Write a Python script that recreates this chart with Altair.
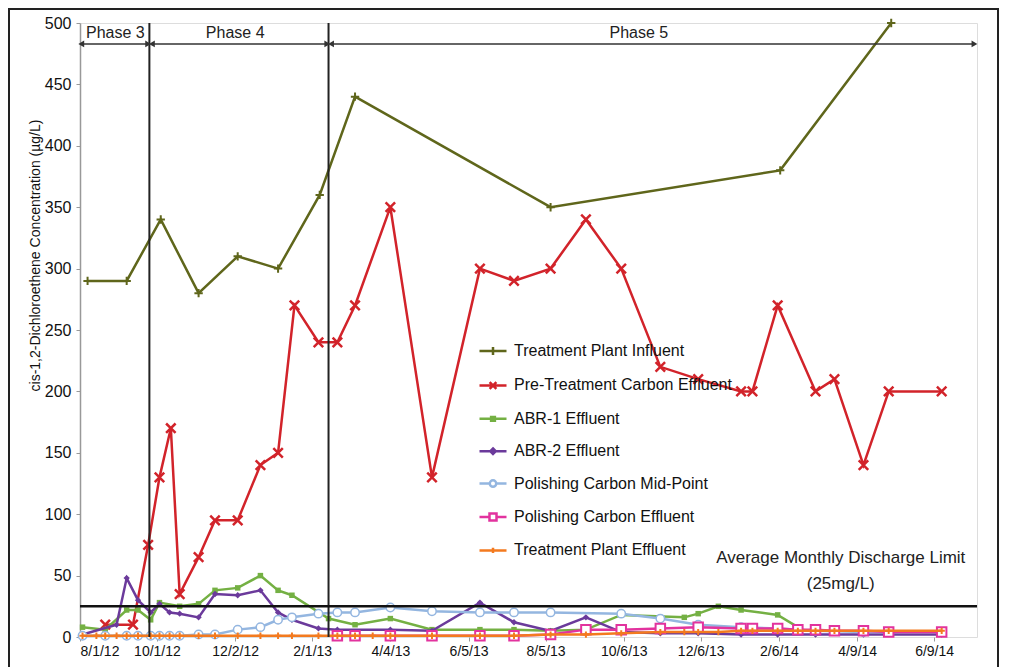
import altair as alt
import pandas as pd

# ---------------- data ----------------
SERIES = ["Treatment Plant Influent", "Pre-Treatment Carbon Effluent", "ABR-1 Effluent",
          "ABR-2 Effluent", "Polishing Carbon Mid-Point", "Polishing Carbon Effluent",
          "Treatment Plant Effluent"]
COLORS = ["#5f661b", "#d2232a", "#74b043", "#6b3a9b", "#94b6e0", "#e2339e", "#f37a1f"]

influent_dates = ["2012-08-07", "2012-09-07", "2012-10-04", "2012-11-03", "2012-12-04", "2013-01-05",
                  "2013-02-07", "2013-03-07", "2013-08-09", "2014-02-07", "2014-05-06"]
influent_vals = [290, 290, 340, 280, 310, 300, 360, 440, 350, 380, 500]

pretreat_dates = ["2012-08-21", "2012-09-12", "2012-09-24", "2012-10-03", "2012-10-12", "2012-10-19",
                  "2012-11-03", "2012-11-16", "2012-12-04", "2012-12-22", "2013-01-05", "2013-01-18",
                  "2013-02-06", "2013-02-21", "2013-03-07", "2013-04-04", "2013-05-07", "2013-06-14",
                  "2013-07-11", "2013-08-09", "2013-09-06", "2013-10-04", "2013-11-04", "2013-12-04",
                  "2014-01-07", "2014-01-16", "2014-02-05", "2014-03-07", "2014-03-22", "2014-04-14",
                  "2014-05-04", "2014-06-15"]
pretreat_vals = [10, 10, 75, 130, 170, 35, 65, 95, 95, 140, 150, 270, 240, 240, 270, 350, 130, 300,
                 290, 300, 340, 300, 220, 210, 200, 200, 270, 200, 210, 140, 200, 200]

abr1_dates = ["2012-08-03", "2012-08-21", "2012-09-07", "2012-09-16", "2012-09-26", "2012-10-03",
              "2012-10-19", "2012-11-03", "2012-11-16", "2012-12-04", "2012-12-22", "2013-01-05",
              "2013-01-16", "2013-02-14", "2013-03-07", "2013-04-04", "2013-05-07", "2013-06-14",
              "2013-07-11", "2013-08-09", "2013-09-06", "2013-10-04", "2013-11-23", "2013-12-04",
              "2013-12-20", "2014-01-07", "2014-02-05", "2014-02-21"]
abr1_vals = [8, 6, 22, 22, 14, 28, 25, 27, 38, 40, 50, 38, 34, 15, 10, 15, 6, 6, 6, 5, 6, 18, 16, 19,
             25, 22, 18, 8]

abr2_dates = ["2012-08-03", "2012-08-30", "2012-09-07", "2012-09-16", "2012-09-26", "2012-10-03",
              "2012-10-11", "2012-10-19", "2012-11-03", "2012-11-16", "2012-12-04", "2012-12-22",
              "2013-01-05", "2013-01-16", "2013-02-06", "2013-02-21", "2013-04-04", "2013-05-07",
              "2013-06-14", "2013-07-11", "2013-08-09", "2013-09-06", "2013-10-04", "2013-11-04",
              "2013-12-04", "2014-01-07", "2014-02-05", "2014-03-07", "2014-04-14", "2014-06-15"]
abr2_vals = [2, 10, 48, 30, 20, 27, 20, 19, 16, 35, 34, 38, 20, 14, 7, 6, 6, 5, 28, 12, 5, 16, 4, 3,
             3, 2, 2, 2, 2, 2]

mid_dates = ["2012-08-03", "2012-08-21", "2012-09-07", "2012-09-16", "2012-09-26", "2012-10-03",
             "2012-10-11", "2012-10-19", "2012-11-03", "2012-11-16", "2012-12-04", "2012-12-22",
             "2013-01-05", "2013-01-16", "2013-02-06", "2013-02-21", "2013-03-07", "2013-04-04",
             "2013-05-07", "2013-06-14", "2013-07-11", "2013-08-09", "2013-10-04", "2013-11-04",
             "2013-12-04", "2014-01-07", "2014-02-05", "2014-03-07", "2014-04-14", "2014-06-15"]
mid_vals = [1, 1, 1, 1, 1, 1, 1, 1, 2, 2, 6, 8, 14, 16, 19, 20, 20, 24, 21, 20, 20, 20, 19, 15,
            10, 8, 7, 5, 4, 4]

poleff_dates = ["2013-02-21", "2013-03-07", "2013-04-04", "2013-05-07", "2013-06-14", "2013-07-11",
                "2013-08-09", "2013-09-06", "2013-10-04", "2013-11-04", "2013-12-04", "2014-01-07",
                "2014-01-16", "2014-02-05", "2014-02-21", "2014-03-07", "2014-03-22", "2014-04-14",
                "2014-05-04", "2014-06-15"]
poleff_vals = [1, 1, 1, 1, 1, 1, 2, 6, 6, 7, 8, 7, 7, 7, 6, 6, 5, 5, 4, 4]

tpeff_dates = ["2012-08-03", "2012-08-14", "2012-08-21", "2012-08-30", "2012-09-07", "2012-09-16",
               "2012-09-26", "2012-10-03", "2012-10-11", "2012-10-19", "2012-11-03", "2012-11-16",
               "2012-12-04", "2012-12-22", "2013-01-05", "2013-01-16", "2013-02-06", "2013-02-21",
               "2013-03-07", "2013-03-21", "2013-04-04", "2013-05-07", "2013-06-14", "2013-07-11",
               "2013-08-09", "2013-09-06", "2013-10-04", "2013-11-04", "2013-11-23", "2013-12-04",
               "2013-12-20", "2014-01-07", "2014-01-16", "2014-02-05", "2014-02-21", "2014-03-07",
               "2014-03-22", "2014-04-14", "2014-05-04", "2014-06-15"]
tpeff_vals = [1, 1, 1, 1, 1, 1, 1, 1, 1, 1, 1, 1, 1, 1, 1, 1, 1, 1, 1, 1, 1, 1, 1, 1, 2, 2, 3, 4,
              4, 4, 4, 5, 5, 5, 5, 5, 5, 5, 5, 5]

TICK_DATES = ["2012-08-01", "2012-10-01", "2012-12-02", "2013-02-01", "2013-04-04", "2013-06-05",
              "2013-08-05", "2013-10-06", "2013-12-06", "2014-02-06", "2014-04-09", "2014-06-09"]
X_DOMAIN = ["2012-08-01", "2014-07-13"]
Y_TICKS = [0, 50, 100, 150, 200, 250, 300, 350, 400, 450, 500]

PHASE_NAMES = ["Phase 3", "Phase 4", "Phase 5"]
PHASE_LABEL_DATES = ["2012-08-29", "2012-12-02", "2013-10-18"]
PHASE_STARTS = ["2012-08-02", "2012-09-27", "2013-02-16"]
PHASE_ENDS = ["2012-09-24", "2013-02-13", "2014-07-11"]
PHASE_BOUNDS = ["2012-09-25", "2013-02-14"]
PHASE_LABEL_Y = 492
PHASE_ARROW_Y = 483

LIMIT = 25
LIMIT_LINES = ["Average Monthly Discharge Limit", "(25mg/L)"]
LIMIT_LABEL_DATE = "2014-03-27"
LIMIT_LABEL_Y = [64, 43]

YTITLE = "cis-1,2-Dichloroethene Concentration (µg/L)"

# ---------------- build tables ----------------
all_dates = [influent_dates, pretreat_dates, abr1_dates, abr2_dates, mid_dates, poleff_dates, tpeff_dates]
all_vals = [influent_vals, pretreat_vals, abr1_vals, abr2_vals, mid_vals, poleff_vals, tpeff_vals]
rows = []
for name, ds, vs in zip(SERIES, all_dates, all_vals):
    for d, v in zip(ds, vs):
        rows.append({"series": name, "date": d, "value": v})
df = pd.DataFrame(rows)


def dt(s):
    y, m, d = (int(p) for p in s.split("-"))
    return alt.DateTime(year=y, month=m, date=d, utc=True)


FONT = "Liberation Sans"
W, H = 897, 614

xscale = alt.Scale(type="utc", domain=[dt(X_DOMAIN[0]), dt(X_DOMAIN[1])])
yscale = alt.Scale(domain=[0, 500], nice=False)

xenc = alt.X("date:T", scale=xscale, title=None,
             axis=alt.Axis(values=[dt(s) for s in TICK_DATES],
                           labelExpr="utcFormat(datum.value, '%-m/%-d/%y')",
                           labelFlush=True, labelFontSize=14, labelFont=FONT, labelColor="#111",
                           tickColor="#999", tickSize=4, labelPadding=3, domain=False,
                           grid=False, labelOverlap=False))
yenc = alt.Y("value:Q", scale=yscale, title=YTITLE,
             axis=alt.Axis(values=Y_TICKS, labelFontSize=16, labelFont=FONT, labelColor="#111",
                           tickColor="#999", tickSize=4, labelPadding=5, domainColor="#999",
                           domainWidth=1.5, grid=False, titleFont=FONT, titleFontSize=14,
                           titleFontWeight="normal", titleColor="#111", titleX=-38, titleY=232))

base = alt.Chart(df)

# point styles per series
POINT_STYLE = [
    dict(shape="M-1,0L1,0M0,-1L0,1", size=70, filled=False, strokeWidth=2),
    dict(shape="M-1,-1L1,1M-1,1L1,-1", size=90, filled=False, strokeWidth=2.5),
    dict(shape="square", size=30, filled=True, strokeWidth=1),
    dict(shape="diamond", size=40, filled=True, strokeWidth=1),
    dict(shape="circle", size=70, filled=False, strokeWidth=1.5, fill="white"),
    dict(shape="square", size=90, filled=False, strokeWidth=2, fill="white"),
    dict(shape="M-1,0L1,0M0,-1L0,1", size=40, filled=False, strokeWidth=2),
]

layers = []
# frame around whole figure
frame = alt.Chart(pd.DataFrame({"k": [0]})).mark_rect(fillOpacity=0, stroke="#222", strokeWidth=2).encode(
    x=alt.value(-71), x2=alt.value(W + 21), y=alt.value(-14), y2=alt.value(H + 80))
layers.append(frame)

for name, col, st in zip(SERIES, COLORS, POINT_STYLE):
    sub = base.transform_filter(alt.datum.series == name)
    layers.append(sub.mark_line(color=col, strokeWidth=2.5).encode(x=xenc, y=yenc))
    kw = dict(shape=st["shape"], size=st["size"], strokeWidth=st["strokeWidth"], opacity=1)
    if st["filled"]:
        kw.update(filled=True, color=col)
    else:
        kw.update(filled=False, stroke=col)
        if "fill" in st:
            kw.update(fill=st["fill"])
    layers.append(sub.mark_point(**kw).encode(x=xenc, y=yenc))

# legend layer (no visible marks)
LEG_SHAPES = [
    "M-1,0L1,0M0,-0.3L0,0.3",
    "M-1,0L1,0M-0.25,-0.25L0.25,0.25M-0.25,0.25L0.25,-0.25",
    "M-1,0L1,0M-0.14,-0.14L0.14,-0.14L0.14,0.14L-0.14,0.14Z",
    "M-1,0L1,0M0,-0.2L0.2,0L0,0.2L-0.2,0Z",
    "M-1,0L-0.24,0M0.24,0L1,0M-0.24,0A0.24,0.24,0,1,0,0.24,0A0.24,0.24,0,1,0,-0.24,0Z",
    "M-1,0L-0.26,0M0.26,0L1,0M-0.26,-0.26L0.26,-0.26L0.26,0.26L-0.26,0.26Z",
    "M-1,0L1,0M0,-0.2L0,0.2",
]
LEG_FILLS = ["transparent", "transparent", COLORS[2], COLORS[3], "white", "white", "transparent"]
leg = alt.Legend(title=None, orient="none", legendX=398, legendY=313, labelFont=FONT, labelFontSize=16,
                 labelColor="#111", symbolSize=729, symbolStrokeWidth=2.5, labelOffset=6,
                 rowPadding=9.4, padding=0, symbolOpacity=1, labelLimit=400)
legend_layer = base.transform_filter("false").mark_point(filled=False, opacity=1).encode(
    x=xenc, y=yenc,
    stroke=alt.Stroke("series:N", scale=alt.Scale(domain=SERIES, range=COLORS), legend=leg),
    fill=alt.Fill("series:N", scale=alt.Scale(domain=SERIES, range=LEG_FILLS), legend=leg),
    shape=alt.Shape("series:N", scale=alt.Scale(domain=SERIES, range=LEG_SHAPES), legend=leg),
)
layers.append(legend_layer)

# phase boundary lines
pb = pd.DataFrame({"date": PHASE_BOUNDS})
layers.append(alt.Chart(pb).mark_rule(color="#222", strokeWidth=2).encode(x=alt.X("date:T", scale=xscale)))

# limit line
layers.append(alt.Chart(pd.DataFrame({"value": [LIMIT]})).mark_rule(color="#111", strokeWidth=2.5).encode(
    y=alt.Y("value:Q", scale=yscale)))

# phase arrows
pa = pd.DataFrame({"name": PHASE_NAMES, "start": PHASE_STARTS, "end": PHASE_ENDS,
                   "label": PHASE_LABEL_DATES, "ya": [PHASE_ARROW_Y] * 3, "yl": [PHASE_LABEL_Y] * 3})
layers.append(alt.Chart(pa).mark_rule(color="#333", strokeWidth=1.5).encode(
    x=alt.X("start:T", scale=xscale), x2="end:T", y=alt.Y("ya:Q", scale=yscale)))
layers.append(alt.Chart(pa).mark_point(shape="triangle-left", filled=True, color="#333", size=45, opacity=1).encode(
    x=alt.X("start:T", scale=xscale), y=alt.Y("ya:Q", scale=yscale)))
layers.append(alt.Chart(pa).mark_point(shape="triangle-right", filled=True, color="#333", size=45, opacity=1).encode(
    x=alt.X("end:T", scale=xscale), y=alt.Y("ya:Q", scale=yscale)))
layers.append(alt.Chart(pa).mark_text(font=FONT, fontSize=16, color="#222", baseline="middle").encode(
    x=alt.X("label:T", scale=xscale), y=alt.Y("yl:Q", scale=yscale), text="name:N"))

# limit annotation
la = pd.DataFrame({"t": LIMIT_LINES, "date": [LIMIT_LABEL_DATE] * 2, "value": LIMIT_LABEL_Y})
layers.append(alt.Chart(la).mark_text(font=FONT, fontSize=17, color="#222", baseline="middle").encode(
    x=alt.X("date:T", scale=xscale), y=alt.Y("value:Q", scale=yscale), text="t:N"))

chart = alt.layer(*layers).properties(
    width=W, height=H, autosize=alt.AutoSizeParams(type="none"),
    padding={"left": 72, "top": 15, "right": 23, "bottom": 30},
).configure_view(stroke="#a6a6a6", strokeWidth=1.2).configure(background="white")

chart.save("out.html", embed_options={"renderer": "svg", "actions": False})
